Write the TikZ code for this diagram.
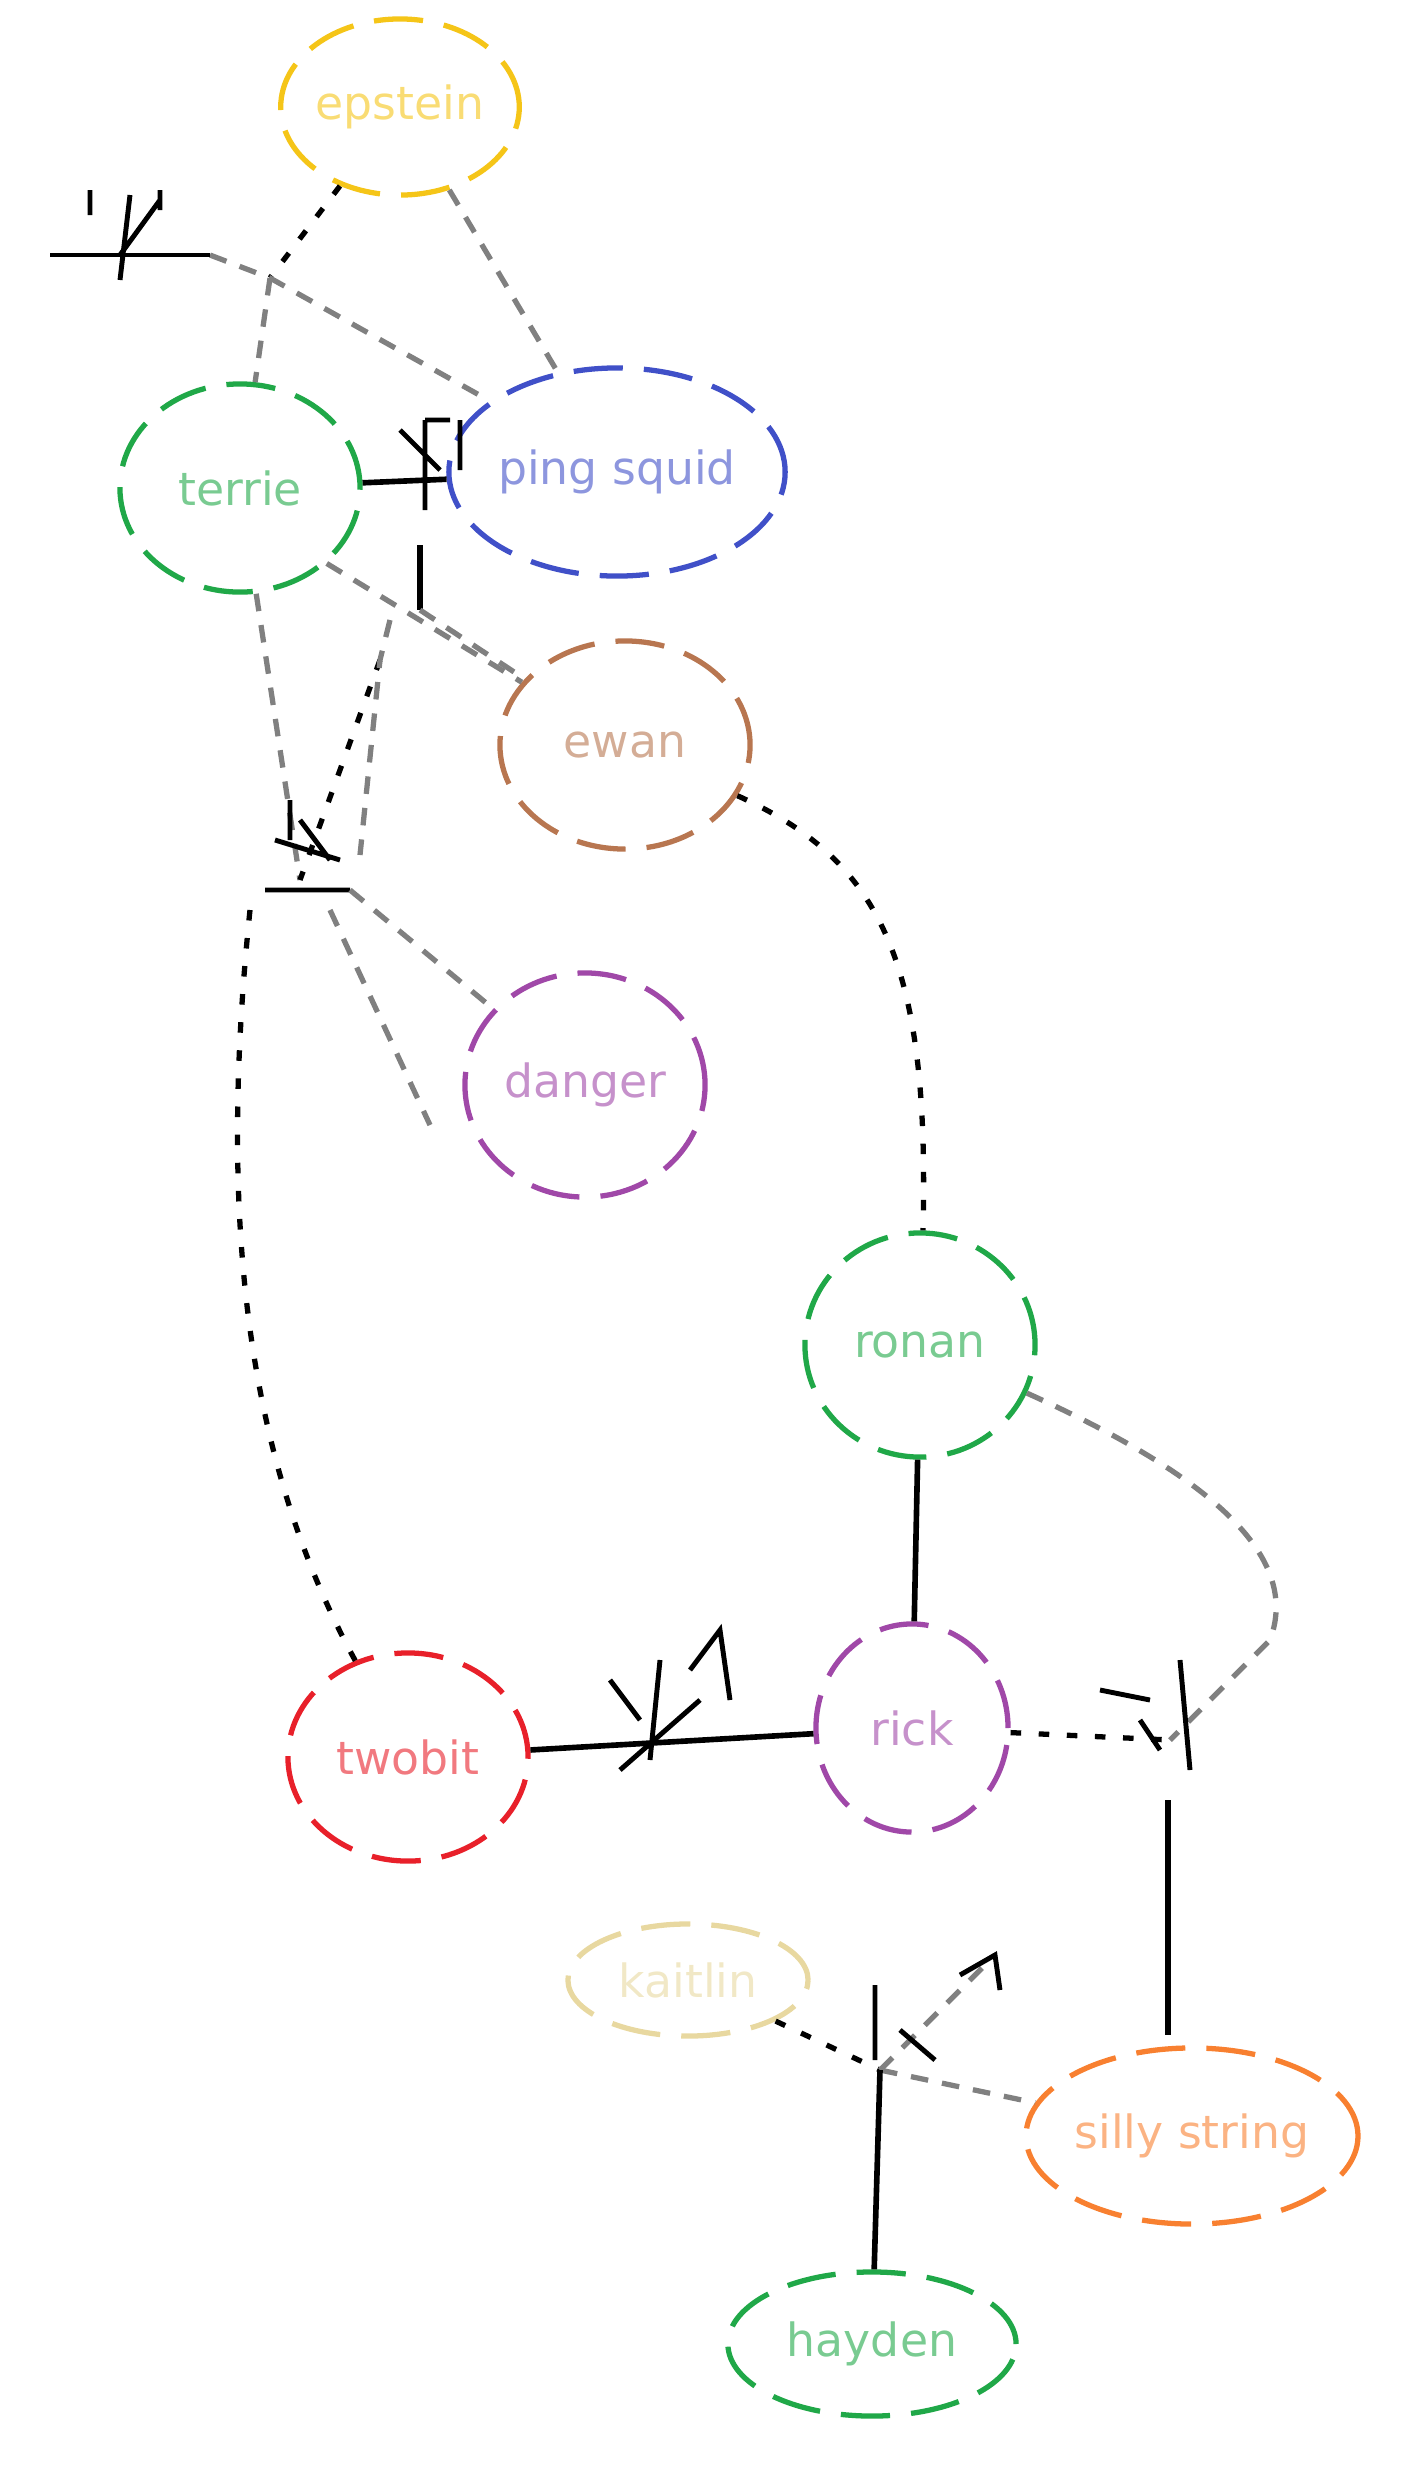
\documentclass[tikz,border=0pt]{standalone}
\usetikzlibrary{shapes.geometric}
\usepackage{fontspec}
\setmainfont{DejaVu Sans}
\definecolor{cy}{HTML}{F5C518}
\definecolor{cb}{HTML}{4050C8}
\definecolor{cg}{HTML}{20A848}
\definecolor{cbr}{HTML}{B87650}
\definecolor{cp}{HTML}{A048A8}
\definecolor{cr}{HTML}{E8202A}
\definecolor{ck}{HTML}{E8D8A0}
\definecolor{co}{HTML}{F88030}
\begin{document}
\begin{tikzpicture}[x=0.01cm,y=-0.01cm,
  ent/.style={ellipse,draw=#1,dash pattern=on 14pt off 6pt,line width=1.5pt,text=#1!60,font=\fontsize{13}{15}\selectfont,inner sep=0pt},
  rel/.style={line width=1.5pt,draw=black,dash pattern=on 3pt off 5pt},
  relg/.style={line width=1.5pt,draw=gray,dash pattern=on 5pt off 4pt},
  sol/.style={line width=1.6pt,draw=black},
  foot/.style={line width=1.4pt,draw=black}]
\useasboundingbox (0,0) rectangle (1420,2490);
\node[ent=cy,minimum width=2.24cm,minimum height=1.76cm] (ep) at (400,107) {epstein};
\node[ent=cb,minimum width=2.72cm,minimum height=2.08cm] (ps) at (617,472) {ping squid};
\node[ent=cg,minimum width=2.40cm,minimum height=2.08cm] (te) at (240,488) {terrie};
\node[ent=cbr,minimum width=2.50cm,minimum height=2.08cm] (ew) at (625,745) {ewan};
\node[ent=cp,minimum width=2.40cm,minimum height=2.24cm] (da) at (585,1085) {danger};
\node[ent=cg,minimum width=2.30cm,minimum height=2.24cm] (ro) at (920,1345) {ronan};
\node[ent=cr,minimum width=2.40cm,minimum height=2.08cm] (tw) at (408,1757) {twobit};
\node[ent=cp,minimum width=1.92cm,minimum height=2.08cm] (ri) at (912,1728) {rick};
\node[ent=ck,minimum width=2.40cm,minimum height=1.12cm] (ka) at (688,1980) {kaitlin};
\node[ent=co,minimum width=3.04cm,minimum height=1.76cm] (ss) at (1192,2136) {silly string};
\node[ent=cg,minimum width=2.88cm,minimum height=1.44cm] (ha) at (872,2344) {hayden};
% junctions
\coordinate (j1) at (270,278);
\coordinate (j1a) at (50,255);
\coordinate (j1b) at (210,255);
\coordinate (j3) at (380,660);
\coordinate (j4) at (300,880);
\coordinate (j4a) at (265,890);
\coordinate (j4b) at (350,890);
\coordinate (j6) at (1170,1740);
\coordinate (j6b) at (1168,1800);
\coordinate (j6c) at (1168,2035);
\coordinate (j7) at (880,2070);
% top cluster
\draw[rel] (ep) -- (j1);
\draw[relg] (j1) -- (te);
\draw[relg] (j1b) -- (j1) -- (ps);
\draw[relg] (ep) -- (ps);
\draw[foot] (j1a) -- (j1b);
\draw[foot] (90,190) -- (90,215) (130,195) -- (120,280) (160,200) -- (120,255) (160,190) -- (160,210);
\draw[sol] (te) -- (ps);
\draw[foot] (425,420) -- (425,510) (400,430) -- (440,470) (460,420) -- (460,470) (425,420) -- (450,420);
% middle
\draw[sol] (420,545) -- (420,610);
\draw[relg] (420,610) -- (ew);
\draw[relg] (te.south east) -- (ew);
\draw[relg] (te) -- (j4);
\draw[rel] (j3) -- (j4);
\draw[relg] (390,620) -- (j3) -- (360,855);
\draw[foot] (j4a) -- (j4b) (290,800) -- (290,840) (275,840) -- (340,860) (300,820) -- (330,860);
\draw[relg] (j4b) -- (da);
\draw[relg] (330,910) -- (430,1125);
% long edges
\draw[rel] (ew) .. controls (880,860) and (930,960) .. (ro);
\draw[rel] (250,910) .. controls (220,1200) and (240,1450) .. (tw);
% lower
\draw[sol] (tw) -- (ri);
\draw[foot] (610,1680) -- (640,1720) (660,1660) -- (650,1760) (690,1670) -- (720,1630) -- (730,1700) (620,1770) -- (700,1700);
\draw[relg] (ro) .. controls (1220,1480) and (1300,1560) .. (1270,1640) -- (j6);
\draw[rel] (ri) -- (j6);
\draw[foot] (1100,1690) -- (1150,1700) (1180,1660) -- (1190,1770) (1140,1720) -- (1160,1750);
\draw[sol] (j6b) -- (j6c);
\draw[sol] (ro) -- (ri);
\draw[rel] (ka) -- (j7);
\draw[relg] (j7) -- (ss);
\draw[relg] (j7) -- (995,1955);
\draw[foot] (875,1985) -- (875,2060) (960,1975) -- (995,1955) -- (1000,1990) (900,2030) -- (935,2060);
\draw[sol] (j7) -- (ha);
\end{tikzpicture}
\end{document}
